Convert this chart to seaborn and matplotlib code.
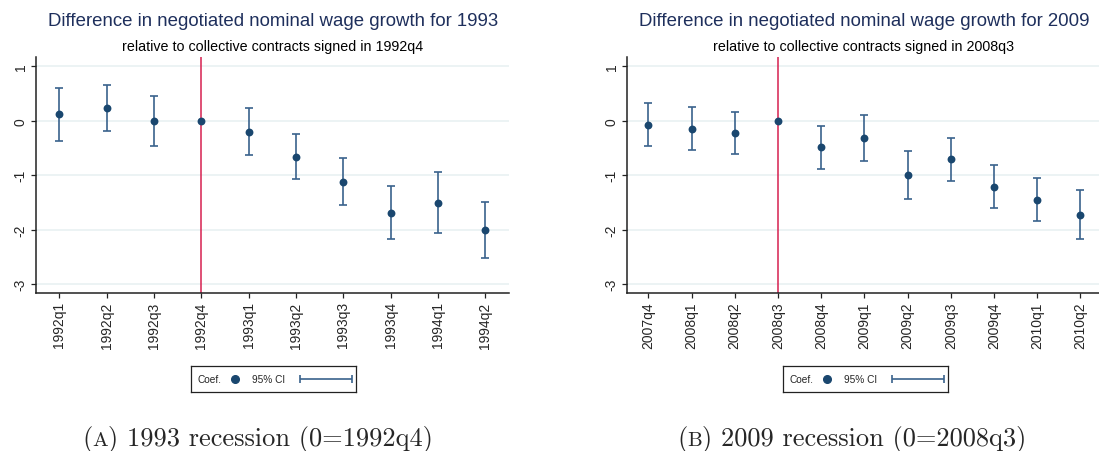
import matplotlib
matplotlib.use('Agg')
import matplotlib.pyplot as plt
import seaborn as sns
import numpy as np
import pandas as pd

# ---- data ----
quarters_93 = ["1992q1", "1992q2", "1992q3", "1992q4", "1993q1",
               "1993q2", "1993q3", "1993q4", "1994q1", "1994q2"]
coef_93 = [0.12, 0.24, 0.00, 0.00, -0.20, -0.66, -1.12, -1.69, -1.51, -2.01]
lo_93 = [-0.37, -0.18, -0.46, np.nan, -0.63, -1.07, -1.55, -2.18, -2.07, -2.52]
hi_93 = [0.61, 0.66, 0.46, np.nan, 0.24, -0.24, -0.69, -1.20, -0.95, -1.49]
base_93 = "1992q4"

quarters_09 = ["2007q4", "2008q1", "2008q2", "2008q3", "2008q4", "2009q1",
               "2009q2", "2009q3", "2009q4", "2010q1", "2010q2"]
coef_09 = [-0.07, -0.15, -0.23, 0.00, -0.49, -0.32, -1.00, -0.71, -1.22, -1.45, -1.73]
lo_09 = [-0.46, -0.54, -0.61, np.nan, -0.88, -0.74, -1.44, -1.10, -1.61, -1.85, -2.17]
hi_09 = [0.32, 0.25, 0.16, np.nan, -0.10, 0.10, -0.55, -0.32, -0.81, -1.05, -1.28]
base_09 = "2008q3"

y_ticks = [1, 0, -1, -2, -3]

titles = ["Difference in negotiated nominal wage growth for 1993",
          "Difference in negotiated nominal wage growth for 2009"]
subtitles = ["relative to collective contracts signed in 1992q4",
             "relative to collective contracts signed in 2008q3"]
captions = ["1993 recession (0=1992q4)", "2009 recession (0=2008q3)"]
caption_keys = ["A", "B"]

# ---- style ----
NAVY = "#1a476f"
CI_COL = "#3a628c"
RED = "#d6204f"
GRID = "#e9f1f2"
TITLE_COL = "#1e2f5c"

sns.set_style("white")
plt.rcParams['font.family'] = ['Liberation Sans', 'DejaVu Sans']
plt.rcParams['axes.unicode_minus'] = False

W, H = 1099, 452
fig = plt.figure(figsize=(W / 100, H / 100), dpi=100)


def px_axes(x0, y0, x1, y1):
    # pixel box (top-left origin) -> figure fraction
    return [x0 / W, 1 - y1 / H, (x1 - x0) / W, (y1 - y0) / H]


def draw_panel(rect, quarters, coef, lo, hi, base, xmax):
    ax = fig.add_axes(rect)
    df = pd.DataFrame({"q": quarters, "coef": coef, "lo": lo, "hi": hi})
    df["pos"] = np.arange(len(df))

    for yv in y_ticks:
        ax.axhline(yv, color=GRID, lw=1.2, zorder=0)
    ax.axvline(quarters.index(base), color=RED, lw=1.1, zorder=1)

    ax.errorbar(df["pos"], df["coef"],
                yerr=[df["coef"] - df["lo"], df["hi"] - df["coef"]],
                fmt="none", ecolor=CI_COL, elinewidth=1.2, capsize=3, capthick=1.2,
                zorder=2)
    sns.scatterplot(data=df, x="pos", y="coef", ax=ax, color=NAVY, s=32,
                    edgecolor=NAVY, linewidth=0, zorder=3, legend=False)

    ax.set_xlim(-0.5, xmax)
    ax.set_ylim(-3.17, 1.165)
    ax.set_xticks(df["pos"])
    ax.set_xticklabels(quarters, rotation=90, fontsize=10)
    ax.set_yticks(y_ticks)
    ax.set_yticklabels([str(v) for v in y_ticks], rotation=90, va="center", fontsize=10)
    ax.set_xlabel("")
    ax.set_ylabel("")
    for s in ["top", "right"]:
        ax.spines[s].set_visible(False)
    for s in ["left", "bottom"]:
        ax.spines[s].set_color("#222222")
        ax.spines[s].set_linewidth(1.1)
    ax.tick_params(axis="both", direction="out", length=3.8, width=0.9,
                   color="#222222", pad=2, bottom=True, left=True)
    return ax


ax1 = draw_panel(px_axes(35.7, 58.3, 509, 294.3), quarters_93, coef_93, lo_93, hi_93,
                 base_93, 9.5)
ax2 = draw_panel(px_axes(626.7, 58.3, 1099, 294.3), quarters_09, coef_09, lo_09, hi_09,
                 base_09, 10.43)

# titles (Stata-like, centred over each plot region)
for cx, t, st in [(273, titles[0], subtitles[0]), (864, titles[1], subtitles[1])]:
    fig.text(cx / W, 1 - 22 / H, t, ha="center", va="center", fontsize=13.4, color=TITLE_COL)
    fig.text(cx / W, 1 - 46.5 / H, st, ha="center", va="center", fontsize=10.3, color="black")

# legends drawn as small boxes below each panel
for x0 in [191, 783]:
    lg = fig.add_axes(px_axes(x0, 367, x0 + 165, 393))
    lg.set_xlim(0, 1)
    lg.set_ylim(0, 1)
    lg.set_xticks([])
    lg.set_yticks([])
    for s in lg.spines.values():
        s.set_visible(True)
        s.set_color("#222222")
        s.set_linewidth(0.9)
    lg.text(0.042, 0.5, "Coef.", ha="left", va="center", fontsize=7.3)
    lg.plot([0.267], [0.5], "o", color=NAVY, ms=5.5)
    lg.text(0.37, 0.5, "95% CI", ha="left", va="center", fontsize=7.3)
    lg.errorbar([0.818], [0.5], xerr=[[0.158], [0.158]], fmt="none", ecolor=CI_COL,
                elinewidth=1.2, capsize=3, capthick=1.2)

# sub-figure captions with small-caps letter
for x0, key, cap in [(82, caption_keys[0], captions[0]), (677, caption_keys[1], captions[1])]:
    yb = 1 - 446 / H
    t1 = fig.text(x0 / W, yb, "(", ha="left", va="baseline", fontsize=19, family="cmr10")
    t2 = plt.annotate(key, xy=(1, yb), xycoords=(t1, "figure fraction"), ha="left",
                      va="baseline", fontsize=15, family="cmr10", annotation_clip=False)
    plt.annotate(") " + cap, xy=(1, yb), xycoords=(t2, "figure fraction"), ha="left",
                 va="baseline", fontsize=19, family="cmr10", annotation_clip=False)

fig.savefig("out.png", dpi=100)
